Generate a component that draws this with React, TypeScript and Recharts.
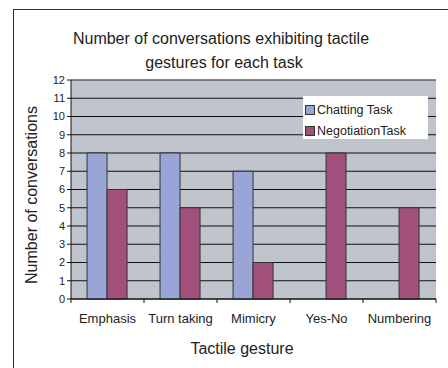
import React from 'react';
import { BarChart, Bar, XAxis, YAxis, CartesianGrid, ReferenceLine } from 'recharts';

const categories = ['Emphasis', 'Turn taking', 'Mimicry', 'Yes-No', 'Numbering'];
const chattingTask = [8, 8, 7, 0, 0];
const negotiationTask = [6, 5, 2, 8, 5];
const yTicks = [0, 1, 2, 3, 4, 5, 6, 7, 8, 9, 10, 11, 12];

const data = categories.map((c, i) => ({ name: c, chat: chattingTask[i], nego: negotiationTask[i] }));

const FONT = '"Liberation Sans", Arial, sans-serif';
const BLUE = '#9AA5D7';
const MAGENTA = '#A0507A';
const TICK_SIZE = 6;
const TICK_MARGIN = 9;

const CatTick = (props: any) => {
  const { x, y, payload, index } = props;
  const off = payload && typeof payload.offset === 'number' ? payload.offset : 0;
  const axisY = y - TICK_SIZE - TICK_MARGIN;
  const last = index === categories.length - 1;
  return (
    <g>
      <line x1={x - off} x2={x - off} y1={axisY} y2={axisY + 4} stroke="#111" />
      {last && <line x1={x + off} x2={x + off} y1={axisY} y2={axisY + 4} stroke="#111" />}
      <text x={x} y={y} dy="0.71em" textAnchor="middle" fontSize={13} fill="#222" fontFamily={FONT}>{payload.value}</text>
    </g>
  );
};

const LegendBox = () => (
  <div style={{ position: 'absolute', left: 303, top: 96, background: '#fff', width: 125, height: 43, boxSizing: 'border-box', padding: '5px 0 0 2px', fontFamily: FONT, fontSize: 12.5, color: '#222' }}>
    {[['Chatting Task', BLUE], ['NegotiationTask', MAGENTA]].map(([t, c]) => (
      <div key={t} style={{ display: 'flex', alignItems: 'center', height: 17, marginBottom: 4 }}>
        <span style={{ display: 'inline-block', width: 8, height: 8, background: c, border: '1px solid #333', marginRight: 2 }} />
        <span>{t}</span>
      </div>
    ))}
  </div>
);

export default function App() {
  return (
    <div style={{ position: 'absolute', left: 0, top: 0, width: 448, height: 368, overflow: 'hidden', background: '#fff', fontFamily: FONT }}>
      <div style={{ position: 'absolute', left: 13, top: 9, width: 500, height: 400, border: '1px solid #333' }} />
      <div style={{ position: 'absolute', left: 0, top: 0, width: 448, height: 368 }}>
        <BarChart width={448} height={368} data={data} margin={{ top: 80, right: 12, bottom: 39, left: 31 }} barCategoryGap="22%" barGap={0}>
          <CartesianGrid fill="#C0C4CC" stroke="#111" vertical={false} />
          <ReferenceLine y={12} stroke="#888" />
          <XAxis dataKey="name" interval={0} height={30} axisLine={{ stroke: '#111' }} tickLine={false} tickSize={TICK_SIZE} tickMargin={TICK_MARGIN} tick={<CatTick />} />
          <YAxis domain={[0, 12]} ticks={yTicks} interval={0} width={40} axisLine={{ stroke: '#111' }} tickLine={{ stroke: '#111' }} tickSize={4} tick={{ fontSize: 11, fill: '#222', fontFamily: FONT }} />
          <YAxis yAxisId="r" orientation="right" width={0} domain={[0, 12]} tick={false} tickLine={false} axisLine={{ stroke: '#888' }} />
          <Bar dataKey="chat" fill={BLUE} stroke="#333" strokeWidth={1} isAnimationActive={false} />
          <Bar dataKey="nego" fill={MAGENTA} stroke="#333" strokeWidth={1} isAnimationActive={false} />
        </BarChart>
      </div>
      <LegendBox />
      <div style={{ position: 'absolute', left: 0, top: 27, width: 448, textAlign: 'center', fontSize: 16, lineHeight: '24px', color: '#222' }}>
        <div style={{ marginLeft: -6 }}>Number of conversations exhibiting tactile</div>
        <div>gestures for each task</div>
      </div>
      <div style={{ position: 'absolute', left: 32, top: 195, width: 0, height: 0 }}>
        <div style={{ position: 'absolute', transform: 'translate(-50%, -50%) rotate(-90deg)', whiteSpace: 'nowrap', fontSize: 16, color: '#222' }}>Number of conversations</div>
      </div>
      <div style={{ position: 'absolute', left: 242, top: 349, width: 0, height: 0 }}>
        <div style={{ position: 'absolute', transform: 'translate(-50%, -50%)', whiteSpace: 'nowrap', fontSize: 16, color: '#222' }}>Tactile gesture</div>
      </div>
    </div>
  );
}
